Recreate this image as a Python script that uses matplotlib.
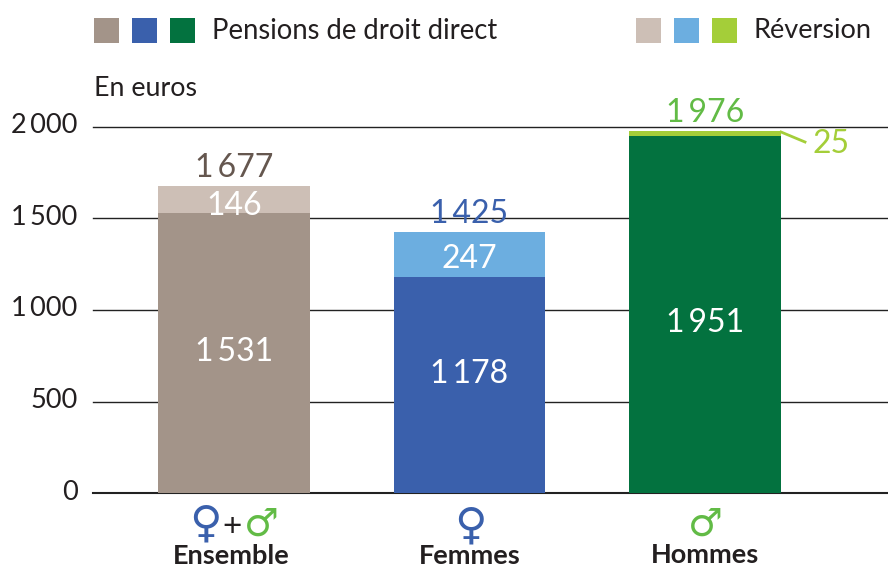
import matplotlib
matplotlib.use("Agg")
import matplotlib.pyplot as plt
from matplotlib.patches import Rectangle

plt.rcParams['font.family'] = ['Lato', 'DejaVu Sans']

W, H = 888, 569

# Data
categories = ["Ensemble", "Femmes", "Hommes"]
direct = [1531, 1178, 1951]
reversion = [146, 247, 25]
totals = [1677, 1425, 1976]
y_ticks = [0, 500, 1000, 1500, 2000]

direct_colors = ["#A39489", "#3A60AC", "#03723F"]
reversion_colors = ["#CDBFB6", "#6CAEE0", "#A4CE39"]
total_colors = ["#65574F", "#3A60AC", "#62BB46"]
TEXT = "#231F20"


def fmt(v):
    return f"{v:,}".replace(",", "\u2009")


def px(x, y):
    return x / W, 1 - y / H


fig = plt.figure(figsize=(W / 100, H / 100), dpi=100)
# plot area in pixels: x 93-888, y 127-493
ax = fig.add_axes([93 / W, 1 - 493 / H, (888 - 93) / W, (493 - 127) / H])
ax.set_xlim((93 - 234) / 235.5, (888 - 234) / 235.5)
ax.set_ylim(0, 2000)
for s in ax.spines.values():
    s.set_visible(False)
ax.set_xticks([])
ax.set_yticks(y_ticks)
ax.set_yticklabels([fmt(v) for v in y_ticks], fontsize=19.5, color=TEXT, va="center")
ax.tick_params(axis="y", length=0, pad=11)
for lab in ax.get_yticklabels():
    lab.set_transform(lab.get_transform() + matplotlib.transforms.ScaledTranslation(0, 1 / 100, fig.dpi_scale_trans))
for v in y_ticks:
    ax.axhline(v, color="#222222", lw=1.5 if v == 0 else 1, zorder=1, clip_on=False)

xs = list(range(len(categories)))
ax.bar(xs, direct, width=0.645, color=direct_colors, zorder=2)
ax.bar(xs, reversion, bottom=direct, width=0.645, color=reversion_colors, zorder=2)

# value labels, nudged in pixels from the middle of their segment as in the original
direct_nudge = [1, 11, -8.5]
reversion_nudge = [-7, -4]
for i in xs:
    ax.annotate(fmt(direct[i]), (i, direct[i] / 2), xytext=(0, direct_nudge[i] * 0.72),
                textcoords="offset points", color="white", fontsize=23,
                ha="center", va="center", zorder=3)
    ax.text(i, totals[i] + 100, fmt(totals[i]), color=total_colors[i], fontsize=23,
            ha="center", va="center", zorder=3, clip_on=False)
for i in xs[:2]:
    ax.annotate(fmt(reversion[i]), (i, direct[i] + reversion[i] / 2),
                xytext=(0, reversion_nudge[i] * 0.72), textcoords="offset points",
                color="white", fontsize=23, ha="center", va="center", zorder=3)

# small value of the Hommes top segment, with leader line
fig.add_artist(plt.Line2D([781 / W, 805 / W], [1 - 132 / H, 1 - 142 / H], color=reversion_colors[2], lw=2))
fig.text(*px(831, 144), fmt(reversion[2]), color=reversion_colors[2], fontsize=23, ha="center", va="center")

# legend squares
for x, c in zip([94, 132, 170], direct_colors):
    fig.add_artist(Rectangle(px(x, 43), 25 / W, 25 / H, transform=fig.transFigure, color=c, lw=0))
for x, c in zip([636, 674, 712], reversion_colors):
    fig.add_artist(Rectangle(px(x, 43), 25 / W, 25 / H, transform=fig.transFigure, color=c, lw=0))
fig.text(*px(212, 31), "Pensions de droit direct", fontsize=19.8, color=TEXT, va="center", ha="left")
fig.text(*px(753, 31), "Réversion", fontsize=19.5, color=TEXT, va="center", ha="left")
fig.text(*px(94, 88), "En euros", fontsize=19.3, color=TEXT, va="center", ha="left")

# category labels with gender symbols
FEMALE = "#3A60AC"
MALE = "#62BB46"
fig.text(*px(205, 524), "\u2640", fontsize=32, color=FEMALE, ha="center", va="center",
         family="DejaVu Sans", fontweight="bold")
fig.text(*px(232, 527), "+", fontsize=24, color=TEXT, ha="center", va="center")
fig.text(*px(261, 525), "\u2642", fontsize=28, color=MALE, ha="center", va="center",
         family="DejaVu Sans", fontweight="bold")
fig.text(*px(470, 526), "\u2640", fontsize=32, color=FEMALE, ha="center", va="center",
         family="DejaVu Sans", fontweight="bold")
fig.text(*px(705, 525), "\u2642", fontsize=28, color=MALE, ha="center", va="center",
         family="DejaVu Sans", fontweight="bold")
for x, y, name in zip([231, 470, 705], [556, 556, 555], categories):
    fig.text(*px(x, y), name, fontsize=19.5, fontweight="bold", color=TEXT, ha="center", va="center")

fig.savefig("out.png", dpi=100)
